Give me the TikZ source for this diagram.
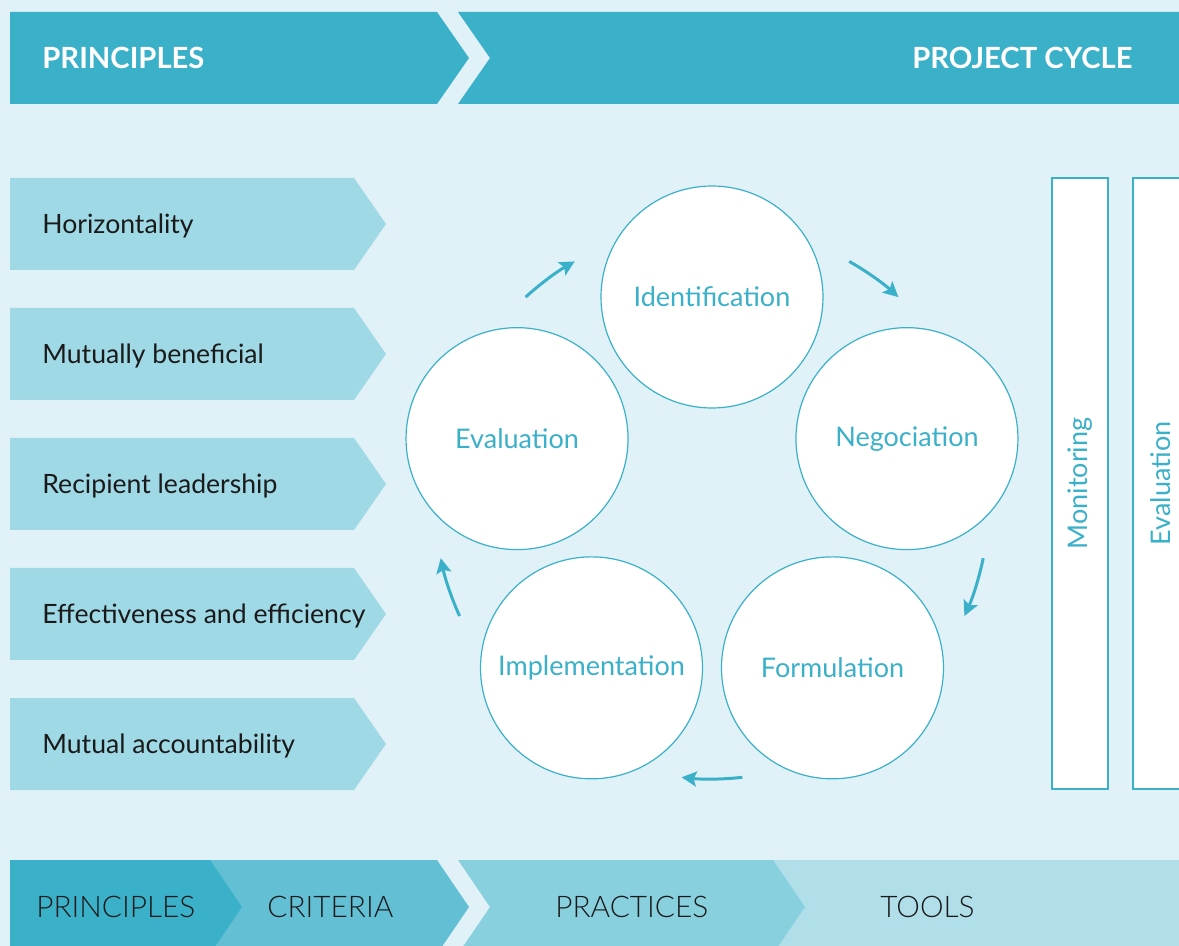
\documentclass[tikz,border=0pt]{standalone}
\usepackage{fontspec}
\setmainfont{Lato}
\newfontfamily\latolight{Lato Light}
\usetikzlibrary{arrows.meta}

\definecolor{bgblue}{HTML}{E0F2F7}
\definecolor{headblue}{HTML}{3BB0C9}
\definecolor{princblue}{HTML}{A0D9E6}
\definecolor{critblue}{HTML}{62BFD4}
\definecolor{pracblue}{HTML}{89D0DF}
\definecolor{toolblue}{HTML}{B0DFEA}
\definecolor{labelblack}{HTML}{1A1A1A}

\tikzset{
  princlabel/.style={anchor=west, inner sep=0pt, text=labelblack, font=\fontsize{13.3}{16}\selectfont},
  stage/.style={circle, draw=headblue, line width=0.6pt, fill=white, minimum size=111pt, inner sep=0pt, text=headblue, font=\fontsize{13.5}{16}\selectfont},
  cyclearrow/.style={headblue, line width=1.5pt, -{Stealth[length=7.5pt, width=7.5pt, inset=1.5pt]}},
  sidebar/.style={draw=headblue, line width=0.6pt, fill=white, rotate=90, minimum width=305.5pt, minimum height=28pt, inner sep=0pt, text=headblue, font=\fontsize{13.5}{16}\selectfont},
  headtext/.style={inner sep=0pt, text=white, font=\bfseries\fontsize{14.6}{17}\selectfont},
  bartext/.style={anchor=west, inner sep=0pt, text=labelblack, font=\latolight\fontsize{14.9}{17}\selectfont}
}

\begin{document}
\begin{tikzpicture}[x=0.5pt, y=-0.5pt]
  \clip (0,0) rectangle (1179,946);
  \fill[bgblue] (0,0) rectangle (1179,946);

  % header bar
  \fill[headblue] (10,12) -- (437,12) -- (469,58) -- (437,104) -- (10,104) -- cycle;
  \fill[headblue] (458,12) -- (1179,12) -- (1179,104) -- (458,104) -- (490,58) -- cycle;
  \node[headtext, anchor=west] (hprinc) at (42,58) {PRINCIPLES};
  \node[headtext, anchor=east] (hcycle) at (1133,58) {PROJECT CYCLE};

  % principles
  \foreach \txt [count=\i from 0] in {Horizontality, Mutually beneficial, Recipient leadership, Effectiveness and efficiency, Mutual accountability} {
    \fill[princblue] (10,178+130*\i) -- (354,178+130*\i) -- (386,224+130*\i) -- (354,270+130*\i) -- (10,270+130*\i) -- cycle;
    \node[princlabel] (princ\i) at (42,226+130*\i) {\txt};
  }

  % project cycle
  \coordinate (cyc) at (712,502);
  \foreach \ang/\name/\txt in {-90/ident/Identification, -18/nego/Negociation, 54/form/Formulation, 126/impl/Implementation, -162/eval/Evaluation}
    \node[stage] (\name) at ([shift={(\ang:205)}]cyc) {\txt};
  \foreach \m [evaluate=\m as \s using \m-6.3, evaluate=\m as \e using \m+6.3] in {-126,-54,18,90,162}
    \draw[cyclearrow] ([shift={(\s:277)}]cyc) arc[start angle=\s, end angle=\e, radius=277];

  % monitoring and evaluation
  \node[sidebar] (monit) at (1080,483.5) {Monitoring};
  \node[sidebar] (evalbar) at (1161,483.5) {Evaluation};

  % bottom bar
  \fill[critblue] (200,860) -- (437,860) -- (469,907) -- (437,954) -- (200,954) -- cycle;
  \fill[headblue] (10,860) -- (210,860) -- (242,907) -- (210,954) -- (10,954) -- cycle;
  \fill[toolblue] (760,860) -- (1179,860) -- (1179,954) -- (760,954) -- cycle;
  \fill[pracblue] (458,860) -- (773,860) -- (805,907) -- (773,954) -- (458,954) -- (490,907) -- cycle;
  \node[bartext] (bprinc) at (36,907) {PRINCIPLES};
  \node[bartext] (bcrit) at (267,907) {CRITERIA};
  \node[bartext] (bprac) at (555,907) {PRACTICES};
  \node[bartext] (btools) at (880,907) {TOOLS};
\end{tikzpicture}
\end{document}
